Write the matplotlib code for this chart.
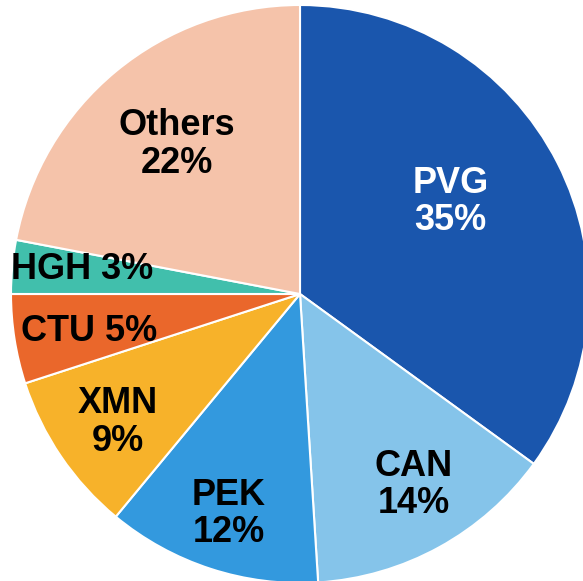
import numpy as np
import matplotlib.pyplot as plt

# Airport share data
airports = ["PVG", "CAN", "PEK", "XMN", "CTU", "HGH", "Others"]
shares = [35, 14, 12, 9, 5, 3, 22]
colors = ["#1a56ad", "#85c4ea", "#3399de", "#f7b22a", "#ea672b", "#41bfac", "#f5c3aa"]
text_colors = ["white", "black", "black", "black", "black", "black", "black"]
one_line = ["HGH", "CTU"]
# label radius and small angle nudge (deg) per wedge
label_dist = [0.61, 0.77, 0.80, 0.77, 0.74, 0.76, 0.67]
label_nudge = [4.5, 2, 0, 1, 1, -1, 0]

plt.rcParams["font.family"] = ["Liberation Sans", "DejaVu Sans"]

fig = plt.figure(figsize=(5.83, 5.81), dpi=100)
ax = fig.add_axes([0, 0, 1, 1])

R = 289.0
ax.pie(
    shares,
    colors=colors,
    startangle=90,
    counterclock=False,
    radius=1.0,
    wedgeprops=dict(edgecolor="white", linewidth=1.5),
)

# label positions at each wedge's mid angle
cum = np.cumsum([0] + shares[:-1])
for name, val, c0, col, d, nd in zip(airports, shares, cum, text_colors,
                                     label_dist, label_nudge):
    ang = np.deg2rad(90 - (c0 + val / 2) * 3.6 + nd)
    x, y = d * np.cos(ang), d * np.sin(ang)
    txt = f"{name} {val}%" if name in one_line else f"{name}\n{val}%"
    ax.text(x, y, txt, ha="center", va="center", fontsize=26,
            fontweight="bold", color=col, linespacing=1.1)

# centre at pixel (300, 294) from the top-left
ax.set_xlim(-300 / R, 283 / R)
ax.set_ylim(-287 / R, 294 / R)
ax.set_aspect("equal")
ax.axis("off")

fig.savefig("out.png", dpi=100)
